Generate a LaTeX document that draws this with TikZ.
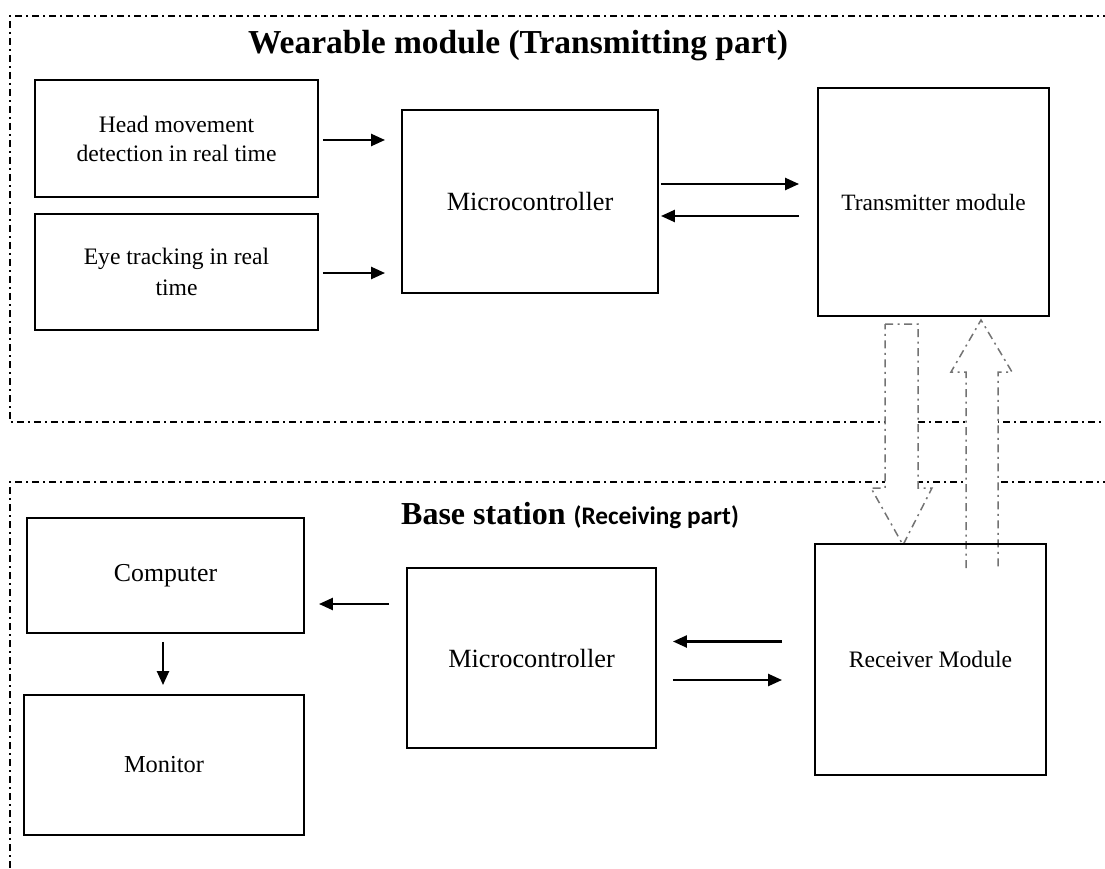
\documentclass[tikz,border=0pt]{standalone}
\usepackage{fontspec}
\setmainfont{Liberation Serif}
\newfontfamily\calibrifont{Carlito}
\usetikzlibrary{arrows.meta,calc}
\begin{document}
\begin{tikzpicture}[x=1pt,y=-1pt,
  box/.style={draw=black,line width=1.9pt,inner sep=0pt,align=center},
  arr/.style={line width=2.4pt,-{Triangle[length=14pt,width=12pt]}},
  frame/.style={line width=1.6pt,dash pattern=on 7pt off 4pt on 2pt off 4pt},
  hollow/.style={draw=black!55,fill=white,line width=1.5pt,dash pattern=on 8pt off 4.5pt on 2pt off 4.5pt},
  ttl/.style={font=\fontsize{33.5}{38}\selectfont\bfseries,inner sep=0pt}
]
\useasboundingbox (0,0) rectangle (1105,869);

% frames
\draw[frame] (1110,16) -- (10,16) -- (10,422) -- (1110,422);
\draw[frame] (1110,482) -- (10,482) -- (10,875);

% hollow arrows
\draw[hollow] (885,324) -- (918,324) -- (918,488) -- (932,488) -- (903,545) -- (871,488) -- (885,488) -- cycle;
\draw[hollow] (966,568) -- (966,372) -- (951,372) -- (981,320) -- (1012,372) -- (998,372) -- (998,568);

% titles
\node[ttl] (t1) at (518,46) {Wearable module (Transmitting part)};
\node[ttl,anchor=base west,font=\fontsize{32}{38}\selectfont\bfseries] (t2) at (401,524) {Base station \textmd{\calibrifont\bfseries\fontsize{25.3}{30}\selectfont(Receiving part)}};

% boxes top
\node[box,minimum width=283pt,minimum height=117pt,font=\fontsize{23.6}{29}\selectfont] (head) at (176.5,138.5) {Head movement\\detection in real time};
\node[box,minimum width=283pt,minimum height=116pt,font=\fontsize{23.6}{31}\selectfont] (eye) at (176.5,272) {Eye tracking in real\\time};
\node[box,minimum width=256pt,minimum height=183pt,font=\fontsize{26.3}{30}\selectfont] (mc1) at (530,201.5) {Microcontroller};
\node[box,minimum width=231pt,minimum height=228pt,font=\fontsize{23.4}{28}\selectfont] (tx) at (933.5,202) {Transmitter module};

% boxes bottom
\node[box,minimum width=277pt,minimum height=115pt,font=\fontsize{25.8}{30}\selectfont] (comp) at (165.5,575.5) {Computer};
\node[box,minimum width=280pt,minimum height=140pt,font=\fontsize{24.4}{29}\selectfont] (mon) at (164,765) {Monitor};
\node[box,minimum width=249pt,minimum height=180pt,font=\fontsize{26.3}{30}\selectfont] (mc2) at (531.5,658) {Microcontroller};
\node[box,minimum width=231pt,minimum height=231pt,font=\fontsize{23.6}{28}\selectfont] (rx) at (930.5,659.5) {Receiver Module};

% arrows top
\draw[arr,shorten <=4pt,shorten >=16pt] ([yshift=-1.5pt]head.east) -- ([yshift=-1.5pt]head.east -| mc1.west);
\draw[arr,shorten <=4pt,shorten >=16pt] ([yshift=-1pt]eye.east) -- ([yshift=-1pt]eye.east -| mc1.west);
\draw[arr,shorten <=2pt,shorten >=18pt] ([yshift=17.5pt]mc1.east) -- ([yshift=17.5pt]mc1.east -| tx.west);
\draw[arr,shorten <=18pt,shorten >=2pt] ([yshift=-14.5pt]mc1.east -| tx.west) -- ([yshift=-14.5pt]mc1.east);

% arrows bottom
\draw[arr,shorten <=17pt,shorten >=14pt] (mc2.west |- 0,604) -- (comp.east |- 0,604);
\draw[arr,shorten <=8pt,shorten >=9pt] (comp.south -| 163,0) -- (mon.north -| 163,0);
\draw[arr,shorten <=32pt,shorten >=16pt] ([yshift=18pt]rx.west) -- ([yshift=18pt]rx.west -| mc2.east);
\draw[arr,shorten <=16pt,shorten >=32pt] ([yshift=-22pt]mc2.east) -- ([yshift=-22pt]mc2.east -| rx.west);
\end{tikzpicture}
\end{document}
